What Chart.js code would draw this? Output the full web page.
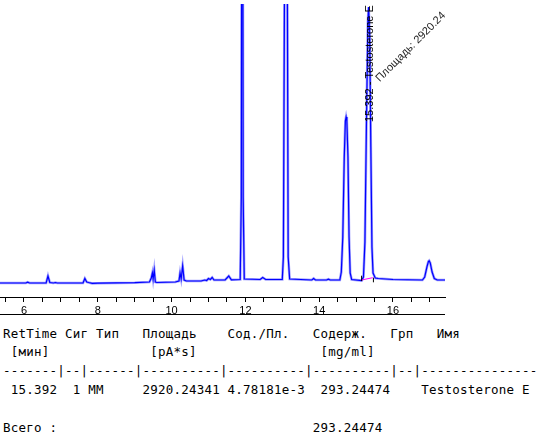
<!DOCTYPE html>
<html>
<head>
<meta charset="utf-8">
<script src="https://cdn.jsdelivr.net/npm/chart.js@4.4.1/dist/chart.umd.min.js"></script>
<style>
  html, body { margin: 0; padding: 0; background: #fff; }
  #wrap { position: relative; width: 541px; height: 445px; overflow: hidden; }
  #cbox { position: absolute; left: 0; top: 0; width: 541px; height: 320px; }
  .t { position: absolute; left: 3px; font-family: "DejaVu Sans Mono", monospace; font-size: 12.5px; letter-spacing: 0.22px; line-height: 14px; color: #000; white-space: pre; }
</style>
</head>
<body>
<div id="wrap">
  <div id="cbox"><canvas id="c"></canvas></div>
</div>
<script>
// ---- data ----
const times  = [5.35, 6.05, 6.1, 6.15, 6.6, 6.65, 6.7, 6.8, 6.85, 6.9,
  7.6, 7.65, 7.7, 7.75, 7.85, 8.0, 9.0, 9.4, 9.45, 9.48, 9.5, 9.53, 9.56, 9.6,
  10.1, 10.2, 10.23, 10.26, 10.3, 10.34, 10.4, 10.8, 10.9, 10.95, 11.0, 11.05, 11.1, 11.15,
  11.45, 11.55, 11.62, 11.86, 11.89, 11.915, 11.94, 11.97,
  12.4, 12.47, 12.55, 13.0, 13.03, 13.07, 13.1, 13.13, 13.16, 13.2,
  13.8, 13.85, 13.9, 14.2, 14.25, 14.3,
  14.56, 14.6, 14.64, 14.68, 14.71, 14.73, 14.75, 14.78, 14.81, 14.84, 14.88,
  15.15, 15.2, 15.24, 15.28, 15.32, 15.34, 15.37, 15.4, 15.43, 15.46, 15.52, 15.6,
  16.0, 16.8, 16.86, 16.92, 16.96, 16.98, 17.01, 17.06, 17.12, 17.2, 17.41];
const signal = [14, 14, 14.8, 14, 14, 21, 14.5, 14, 14.5, 14,
  14, 18.5, 15, 14.5, 13.6, 13.8, 14.3, 15, 19, 24, 18, 27, 15, 14.5,
  15, 16, 24, 18, 31, 17, 16, 16, 17, 16.5, 18.5, 17.5, 19.5, 17,
  17, 21, 17.2, 17.5, 100, 800, 100, 18,
  17.5, 19.5, 17.5, 17.5, 40, 400, 700, 400, 40, 18,
  17, 18.5, 17, 17, 17.8, 17,
  17, 25, 60, 140, 176, 180, 176, 140, 60, 24, 17.5,
  16.5, 20, 55, 170, 275, 290, 260, 150, 50, 24, 19, 18.5,
  17.5, 17, 20, 30, 35.5, 36.3, 34, 25, 18.5, 17, 17];
const intStart = [15.15, 16, 21.3];   // time, low, high
const intEnd   = [15.47, 14.7, 19.3];
const intBase  = [[15.15, 17], [15.45, 19.3]];
const peakTime = 15.37;
const peakLabel = "15.392 - Testosterone E";
const areaLabel = "Площадь: 2920.24";
const xTickLabels = [6, 8, 10, 12, 14, 16];

const reportLines = [
  { top: 327, text: "RetTime Сиг Тип   Площадь    Сод./Пл.   Содерж.   Грп   Имя" },
  { top: 345, text: " [мин]             [pA*s]                [mg/ml]" },
  { top: 364, text: "-------|--|------|----------|----------|----------|--|---------------" },
  { top: 383, text: " 15.392  1 MM     2920.24341 4.78181e-3  293.24474    Testosterone E" },
  { top: 421, text: "Всего :                                 293.24474" }
];

// ---- report table as real text ----
const wrap = document.getElementById('wrap');
reportLines.forEach(r => {
  const d = document.createElement('div');
  d.className = 't';
  d.style.top = r.top + 'px';
  d.textContent = r.text;
  wrap.appendChild(d);
});

// ---- chart ----
const pts = times.map((t, i) => ({ x: t, y: signal[i] }));

const annot = {
  id: 'annot',
  afterDatasetsDraw(chart) {
    const { ctx, chartArea, scales } = chart;
    const x = scales.x.getPixelForValue(peakTime);
    ctx.save();
    ctx.fillStyle = '#000';
    ctx.font = '11px "Liberation Sans", Arial, sans-serif';
    ctx.save();
    ctx.translate(x, 122);
    ctx.rotate(-Math.PI / 2);
    ctx.textAlign = 'left';
    ctx.textBaseline = 'middle';
    ctx.fillText(peakLabel, 0, 0);
    ctx.restore();
    ctx.save();
    ctx.translate(x + 41, 47);
    ctx.rotate(-Math.PI / 4);
    ctx.textAlign = 'center';
    ctx.textBaseline = 'middle';
    ctx.fillStyle = '#222';
    ctx.fillText(areaLabel, 0, 0);
    ctx.restore();
    // lower frame line under the tick labels
    ctx.strokeStyle = '#000';
    ctx.lineWidth = 1;
    ctx.beginPath();
    const yb = Math.round(chartArea.bottom + 17) + 0.5;
    ctx.moveTo(chartArea.left, yb);
    ctx.lineTo(chartArea.right, yb);
    ctx.stroke();
    ctx.restore();
  }
};

new Chart(document.getElementById('c'), {
  type: 'line',
  data: {
    datasets: [
      { data: [{x: intStart[0], y: intStart[1]}, {x: intStart[0], y: intStart[2]}], borderColor: '#000', borderWidth: 1, pointRadius: 0, tension: 0, order: 0 },
      { data: [{x: intEnd[0], y: intEnd[1]}, {x: intEnd[0], y: intEnd[2]}], borderColor: '#000', borderWidth: 1, pointRadius: 0, tension: 0, order: 0 },
      { data: intBase.map(p => ({x: p[0], y: p[1]})), borderColor: '#ff00ff', borderWidth: 1, pointRadius: 0, tension: 0, order: 0 },
      { data: pts, borderColor: '#0000ff', borderWidth: 1.2, pointRadius: 0, tension: 0, order: 1 },
      { data: pts, borderColor: 'rgba(150,150,255,0.9)', borderWidth: 2.6, pointRadius: 0, tension: 0, order: 2 }
    ]
  },
  options: {
    responsive: true,
    maintainAspectRatio: false,
    animation: false,
    events: [],
    layout: { padding: { top: 4, right: 96, left: 0, bottom: 0 } },
    plugins: { legend: { display: false }, tooltip: { enabled: false } },
    scales: {
      x: {
        type: 'linear',
        min: 5.35,
        max: 17.41,
        afterFit(scale) { scale.height = 23; },
        border: { display: true, color: '#000', width: 1 },
        grid: { drawOnChartArea: false, drawTicks: true, tickLength: 5, color: '#000' },
        ticks: {
          stepSize: 0.5,
          includeBounds: false,
          autoSkip: false,
          maxRotation: 0,
          padding: 2,
          color: '#000',
          font: { family: '"Liberation Sans", Arial, sans-serif', size: 11 },
          callback(v) {
            const r = Math.round(v);
            return (Math.abs(v - r) < 1e-6 && xTickLabels.includes(r)) ? String(r) : '';
          }
        }
      },
      y: { type: 'linear', display: false, min: 0, max: 293 }
    }
  },
  plugins: [annot]
});
</script>
</body>
</html>
